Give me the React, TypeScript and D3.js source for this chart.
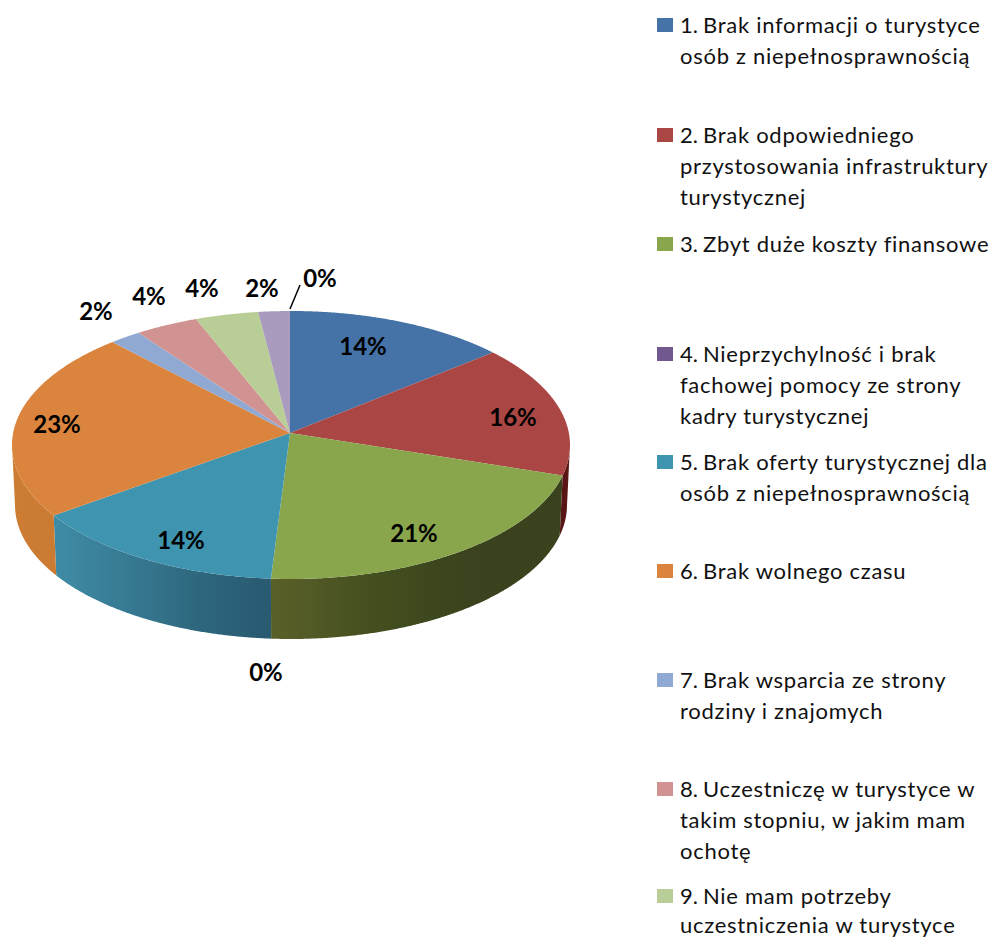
import * as d3 from "d3";

const values = [14, 16, 21, 0, 14, 23, 2, 4, 4, 2, 0];
const labels = ["14%", "16%", "21%", "0%", "14%", "23%", "2%", "4%", "4%", "2%", "0%"];
const topColors = ["#4573a7", "#aa4644", "#8aa64c", "#71588f", "#3f94af", "#db843d", "#8fa9d3", "#d19392", "#b9cd96", "#a99bbd", "#4572a7"];
const sideStops: Record<number, string[]> = {
  1: ["#3a1412", "#5c1616"],
  2: ["#5b6029", "#44501f", "#3a431d", "#39421d"],
  4: ["#3f8ca6", "#377a93", "#2e677d", "#285a70"],
  5: ["#cc7d33", "#c97a30"],
};
const legendNumbers = ["1.", "2.", "3.", "4.", "5.", "6.", "7.", "8.", "9."];
const legendLines = [
  ["Brak informacji o turystyce", "osób z niepełnosprawnością"],
  ["Brak odpowiedniego", "przystosowania infrastruktury", "turystycznej"],
  ["Zbyt duże koszty finansowe"],
  ["Nieprzychylność i brak", "fachowej pomocy ze strony", "kadry turystycznej"],
  ["Brak oferty turystycznej dla", "osób z niepełnosprawnością"],
  ["Brak wolnego czasu"],
  ["Brak wsparcia ze strony", "rodziny i znajomych"],
  ["Uczestniczę w turystyce w", "takim stopniu, w jakim mam", "ochotę"],
  ["Nie mam potrzeby", "uczestniczenia w turystyce"],
];
// baseline of the first line of each legend entry
const legendTops = [33, 143, 252, 362, 470, 579, 688, 797, 904];
// last entry is squeezed a little so its second line stays inside the page
const legendSteps = [30.8, 30.8, 30.8, 30.8, 30.8, 30.8, 30.8, 30.8, 28.5];
const labelCenters: [number, number][] = [
  [363, 347], [513, 418], [414, 534], [266, 673], [181, 541], [57, 425],
  [96, 312], [149, 297], [202, 289], [262, 289], [320, 279],
];

const W = 991;
const H = 938;
const cx = 291;
const cy = 445;
const rx = 279;
const ry = 134;
const apex: [number, number] = [290, 433];
const bottom = { cy: 505, rx: 276, ry: 134 };

// ray from the apex (sits above the ellipse centre because of the perspective) to the rim
function rim(theta: number): [number, number] {
  const dx = rx * Math.sin(theta);
  const dy = -ry * Math.cos(theta);
  const ox = (apex[0] - cx) / rx;
  const oy = (apex[1] - cy) / ry;
  const a = (dx / rx) ** 2 + (dy / ry) ** 2;
  const b = 2 * (ox * (dx / rx) + oy * (dy / ry));
  const c = ox * ox + oy * oy - 1;
  const t = (-b + Math.sqrt(b * b - 4 * a * c)) / (2 * a);
  return [apex[0] + t * dx, apex[1] + t * dy];
}

function toBottom([x, y]: [number, number]): [number, number] {
  return [cx + ((x - cx) / rx) * bottom.rx, bottom.cy + ((y - cy) / ry) * bottom.ry];
}

const line = d3.line();
const pie = d3.pie<number>().value((d) => d).sort(null)(values);

function rimPoints(a0: number, a1: number) {
  const n = Math.max(2, Math.ceil((a1 - a0) / 0.005));
  return d3.range(n + 1).map((i) => rim(a0 + ((a1 - a0) * i) / n));
}

export default function App() {
  const slices = pie.filter((s) => s.endAngle > s.startAngle);
  return (
    <svg
      width={W}
      height={H}
      viewBox={`0 0 ${W} ${H}`}
      style={{ position: "absolute", left: 0, top: 0, background: "#fff", display: "block" }}
    >
      <defs>
        {Object.entries(sideStops).map(([i, stops]) => {
          const s = pie[+i];
          const xs = rimPoints(s.startAngle, s.endAngle).map((p) => p[0]);
          return (
            <linearGradient
              key={i}
              id={`side-${i}`}
              gradientUnits="userSpaceOnUse"
              x1={d3.min(xs)}
              x2={d3.max(xs)}
              y1={0}
              y2={0}
            >
              {stops.map((c, j) => (
                <stop key={j} offset={j / (stops.length - 1)} stopColor={c} />
              ))}
            </linearGradient>
          );
        })}
      </defs>

      {slices.map((s) => {
        const pts = rimPoints(s.startAngle, s.endAngle).filter((p) => p[1] >= cy);
        if (pts.length < 2) return null;
        return (
          <path
            key={`side${s.index}`}
            d={line([...pts, ...pts.map(toBottom).reverse()]) + "Z"}
            fill={`url(#side-${s.index})`}
          />
        );
      })}

      {slices.map((s) => (
        <path
          key={`top${s.index}`}
          d={line([apex, ...rimPoints(s.startAngle, s.endAngle)]) + "Z"}
          fill={topColors[s.index]}
        />
      ))}

      <line x1={290} y1={309} x2={300} y2={285} stroke="#000" strokeWidth={1.5} />

      {labels.map((t, i) => (
        <text
          key={i}
          x={labelCenters[i][0]}
          y={labelCenters[i][1] + 8}
          textAnchor="middle"
          fontFamily="Lato"
          fontWeight={700}
          fontSize={24}
          fill="#000"
        >
          {t}
        </text>
      ))}

      {legendLines.map((lines, i) => (
        <g key={i}>
          <rect x={657} y={legendTops[i] - 15} width={16} height={14} fill={topColors[i]} />
          <text x={680} y={legendTops[i]} fontFamily="Lato" fontSize={22} fill="#111">
            {legendNumbers[i]}
          </text>
          {lines.map((l, j) => (
            <text
              key={j}
              x={j === 0 ? 703 : 680}
              y={legendTops[i] + j * legendSteps[i]}
              fontFamily="Lato"
              fontSize={22}
              letterSpacing={0.72}
              fill="#111"
            >
              {l}
            </text>
          ))}
        </g>
      ))}
    </svg>
  );
}
